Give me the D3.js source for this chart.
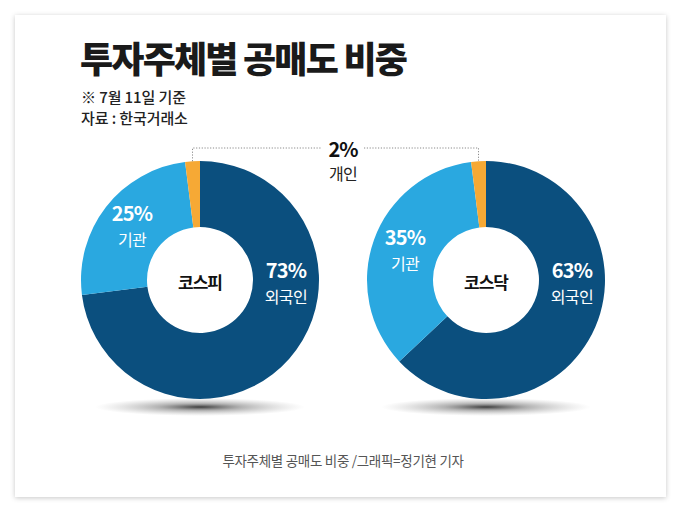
<!DOCTYPE html>
<html>
<head>
<meta charset="utf-8">
<script src="https://cdn.jsdelivr.net/npm/d3@7"></script>
<style>
  body { margin: 0; background: #fff; }
  svg { display: block; font-family: "Noto Sans CJK KR", "Noto Sans", sans-serif; }
</style>
</head>
<body>
<div id="chart"></div>
<script>
const title = "투자주체별 공매도 비중";
const notes = ["※ 7월 11일 기준", "자료 : 한국거래소"];
const caption = "투자주체별 공매도 비중 /그래픽=정기현 기자";

const markets = ["코스피", "코스닥"];
const investors = ["외국인", "기관", "개인"];
const kospiShares = [73, 25, 2];
const kosdaqShares = [63, 35, 2];
const shares = [kospiShares, kosdaqShares];

const width = 682;
const height = 512;
const outerR = 119;
const innerR = 53;
const cy = 280;

const color = d3.scaleOrdinal()
  .domain(investors)
  .range(["#0b4f7e", "#2aa8e0", "#f6a935"]);

const x = d3.scalePoint().domain(markets).range([200, 486]);

const svg = d3.select("#chart").append("svg")
  .attr("width", width).attr("height", height);

const defs = svg.append("defs");
const drop = defs.append("filter").attr("id", "card-shadow")
  .attr("x", "-5%").attr("y", "-5%").attr("width", "110%").attr("height", "110%");
drop.append("feDropShadow").attr("dx", 0).attr("dy", 1)
  .attr("stdDeviation", 2.5).attr("flood-color", "#000").attr("flood-opacity", 0.22);

const grad = defs.append("radialGradient").attr("id", "floor-shadow");
grad.append("stop").attr("offset", "0%").attr("stop-color", "#333").attr("stop-opacity", 0.95);
grad.append("stop").attr("offset", "40%").attr("stop-color", "#777").attr("stop-opacity", 0.55);
grad.append("stop").attr("offset", "100%").attr("stop-color", "#aaa").attr("stop-opacity", 0);

// card
svg.append("rect")
  .attr("x", 15).attr("y", 15).attr("width", 651).attr("height", 482)
  .attr("fill", "#fff").attr("filter", "url(#card-shadow)");

// TITLES
svg.append("text")
  .attr("x", 80).attr("y", 73)
  .attr("font-size", 36).attr("font-weight", 900)
  .attr("letter-spacing", -1.8).attr("fill", "#1a1a1a")
  .text(title);

svg.selectAll("text.note").data(notes).join("text")
  .attr("class", "note")
  .attr("x", 81).attr("y", (d, i) => 103 + i * 21)
  .attr("font-size", 15).attr("font-weight", 500)
  .attr("letter-spacing", -0.1).attr("fill", "#222")
  .text(d => d);

const pie = d3.pie().sort(null).value(d => d.value);
const arc = d3.arc().innerRadius(innerR).outerRadius(outerR);
const labelArc = d3.arc().innerRadius((innerR + outerR) / 2).outerRadius((innerR + outerR) / 2);

const donuts = svg.selectAll("g.donut")
  .data(markets.map((m, i) => ({
    market: m,
    arcs: pie(investors.map((name, j) => ({ name, value: shares[i][j] })))
  })))
  .join("g")
  .attr("class", "donut")
  .attr("transform", d => `translate(${x(d.market)},${cy})`);

// floor shadow
donuts.append("ellipse")
  .attr("cx", 0).attr("cy", outerR + 8)
  .attr("rx", outerR * 0.88).attr("ry", 9)
  .attr("fill", "url(#floor-shadow)");

donuts.selectAll("path").data(d => d.arcs).join("path")
  .attr("fill", d => color(d.data.name))
  .attr("d", arc);

// slice labels, 개인 is labelled once above both charts
const labelPos = d => d.data.name === investors[0]
  ? labelArc.centroid({ startAngle: 0, endAngle: Math.PI * 1.03 })
  : labelArc.centroid(d);

const labels = donuts.selectAll("g.lab")
  .data(d => d.arcs.filter(a => a.data.name !== investors[2]))
  .join("g")
  .attr("class", "lab")
  .attr("transform", d => `translate(${labelPos(d)})`)
  .attr("text-anchor", "middle").attr("fill", "#fff");

labels.append("text")
  .attr("y", -6).attr("font-size", 20).attr("font-weight", 700)
  .attr("letter-spacing", -0.8)
  .text(d => `${d.data.value}%`);
labels.append("text")
  .attr("y", 19).attr("font-size", 16).attr("font-weight", 400)
  .attr("letter-spacing", -0.6)
  .text(d => d.data.name);

donuts.append("text")
  .attr("y", 9).attr("text-anchor", "middle")
  .attr("font-size", 17).attr("font-weight", 700)
  .attr("letter-spacing", -1).attr("fill", "#111")
  .text(d => d.market);

// bracket between the two 개인 slices
const tip = donuts.data().map(d => {
  const a = d.arcs[2];
  const mid = (a.startAngle + a.endAngle) / 2;
  return [x(d.market) + outerR * Math.sin(mid), cy - outerR * Math.cos(mid), a.data.value];
});
const lineY = 148;
const midX = (x(markets[0]) + x(markets[1])) / 2;
const gap = 21;
svg.append("path")
  .attr("d", `M${tip[0][0]},${tip[0][1]}V${lineY}H${midX - gap}M${midX + gap},${lineY}H${tip[1][0]}V${tip[1][1]}`)
  .attr("fill", "none").attr("stroke", "#8a8a8a")
  .attr("stroke-width", 1).attr("stroke-dasharray", "1.2,1.6");

svg.append("text")
  .attr("x", midX).attr("y", 157).attr("text-anchor", "middle")
  .attr("font-size", 20).attr("font-weight", 700).attr("letter-spacing", -1)
  .attr("fill", "#111")
  .text(`${tip[0][2]}%`);
svg.append("text")
  .attr("x", midX).attr("y", 180).attr("text-anchor", "middle")
  .attr("font-size", 16).attr("letter-spacing", -0.6).attr("fill", "#222")
  .text(investors[2]);

svg.append("text")
  .attr("x", 343).attr("y", 466).attr("text-anchor", "middle")
  .attr("font-size", 13.5).attr("letter-spacing", -0.3).attr("fill", "#555")
  .text(caption);
</script>
</body>
</html>
